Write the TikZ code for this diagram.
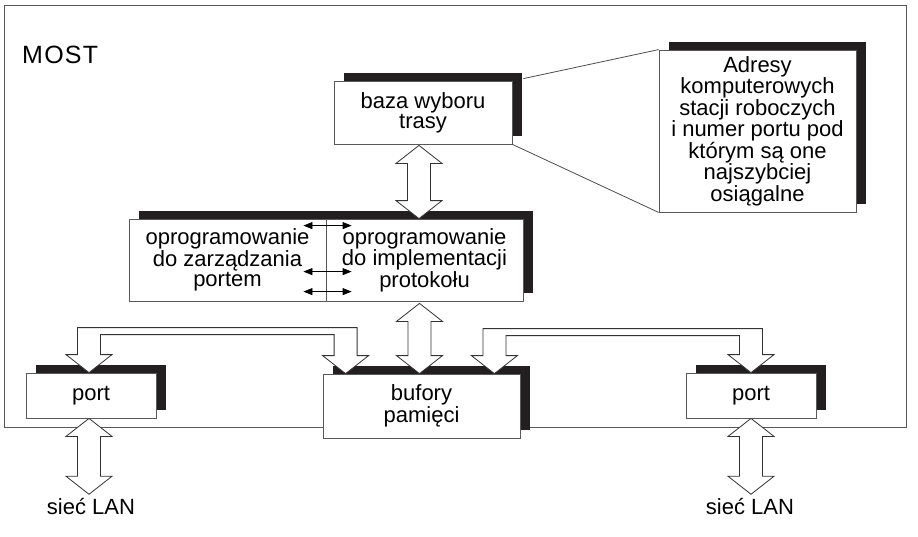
\documentclass[tikz,border=0pt]{standalone}
\usepackage{fontspec}
\setmainfont{Liberation Sans}
\usetikzlibrary{arrows.meta,calc,shadows}
\definecolor{shade}{HTML}{231F20}

% hollow double arrow, straight down from #1 to #2
\newcommand\fatarr[2]{%
  \draw[fat] let \p1=(#1), \p2=(#2) in
    (\x1,\y1) -- (\x1+23pt,\y1-18pt) -- (\x1+11.5pt,\y1-18pt)
    -- (\x1+11.5pt,\y2+18pt) -- (\x1+23pt,\y2+18pt) -- (\x1,\y2)
    -- (\x1-23pt,\y2+18pt) -- (\x1-11.5pt,\y2+18pt)
    -- (\x1-11.5pt,\y1-18pt) -- (\x1-23pt,\y1-18pt) -- cycle;}
% hollow bent arrow, both heads pointing down
\newcommand\bentarr[2]{%
  \draw[fat] let \p1=(#1), \p2=(#2) in
    (\x1,\y1) -- (\x1-23pt,\y1+18pt) -- (\x1-11.5pt,\y1+18pt)
    -- (\x1-11.5pt,\y1+45pt) -- (\x2+11.5pt,\y1+45pt)
    -- (\x2+11.5pt,\y2+18pt) -- (\x2+23pt,\y2+18pt) -- (\x2,\y2)
    -- (\x2-23pt,\y2+18pt) -- (\x2-11.5pt,\y2+18pt)
    -- (\x2-11.5pt,\y1+38pt) -- (\x1+11.5pt,\y1+38pt)
    -- (\x1+11.5pt,\y1+18pt) -- (\x1+23pt,\y1+18pt) -- cycle;}

\begin{document}
\begin{tikzpicture}[x=1pt,y=-1pt,>={Triangle[length=9pt,width=7pt]},
    font=\fontsize{22}{20}\selectfont,
    box/.style={draw=black!65,fill=white,line width=.8pt,inner sep=0pt,align=center,
      drop shadow={shadow xshift=10pt,shadow yshift=8pt,fill=shade,opacity=1}},
    fat/.style={draw=black!80,fill=white,line width=.8pt}]
  \useasboundingbox (0,0) rectangle (918,536);
  \draw[black!65,line width=.9pt] (4,5) rectangle (906,427);
  \node[anchor=base west,inner sep=0pt,font=\fontsize{25}{25}\selectfont] (most) at (22,63)
    {\addfontfeatures{LetterSpace=5}MOST};

  \node[box,minimum width=178,minimum height=63] (baza) at (423,112.5) {baza wyboru\\trasy};
  \node[box,minimum width=197,minimum height=162] (adr) at (757.5,131)
    {Adresy\\komputerowych\\stacji roboczych\\i numer portu pod\\którym są one\\najszybciej\\osiągalne};
  \node[box,minimum width=197,minimum height=82] (opl) at (227.5,260) {oprogramowanie\\do zarządzania\\portem};
  \node[box,minimum width=197,minimum height=82] (opr) at (424.5,260) {oprogramowanie\\do implementacji\\protokołu};
  \node[box,minimum width=197,minimum height=64] (buf) at (421.5,406) {bufory\\pamięci};
  \node[box,minimum width=130,minimum height=45] (pl) at (91,395.5) {port};
  \node[box,minimum width=130,minimum height=45] (pr) at (751,395.5) {port};
  \node (netl) at (91,506) {sieć LAN};
  \node (netr) at (750,506) {sieć LAN};

  \draw[black!70,line width=.8pt] ($(baza.north east)+(11,-2)$) -- (adr.north west);
  \draw[black!70,line width=.8pt] (baza.south east) -- (adr.south west);

  \draw[<->,line width=.8pt] ($(opl.north east)+(-23,7)$) -- ($(opr.north west)+(26,7)$);
  \draw[<->,line width=.8pt] ($(opl.north east)+(-23,53)$) -- ($(opr.north west)+(26,53)$);
  \draw[<->,line width=.8pt] ($(opl.north east)+(-23,73)$) -- ($(opr.north west)+(26,73)$);

  \fatarr{$(baza.south)+(-4,1)$}{opr.north}
  \fatarr{$(opr.south)+(-5,2)$}{buf.north}
  \fatarr{$(pl.south)+(-2,0)$}{netl.north}
  \fatarr{pr.south}{netr.north}
  \bentarr{$(pl.north)+(-2,0)$}{$(buf.north west)+(23,0)$}
  \bentarr{$(buf.north east)+(-26,0)$}{pr.north}
\end{tikzpicture}
\end{document}
